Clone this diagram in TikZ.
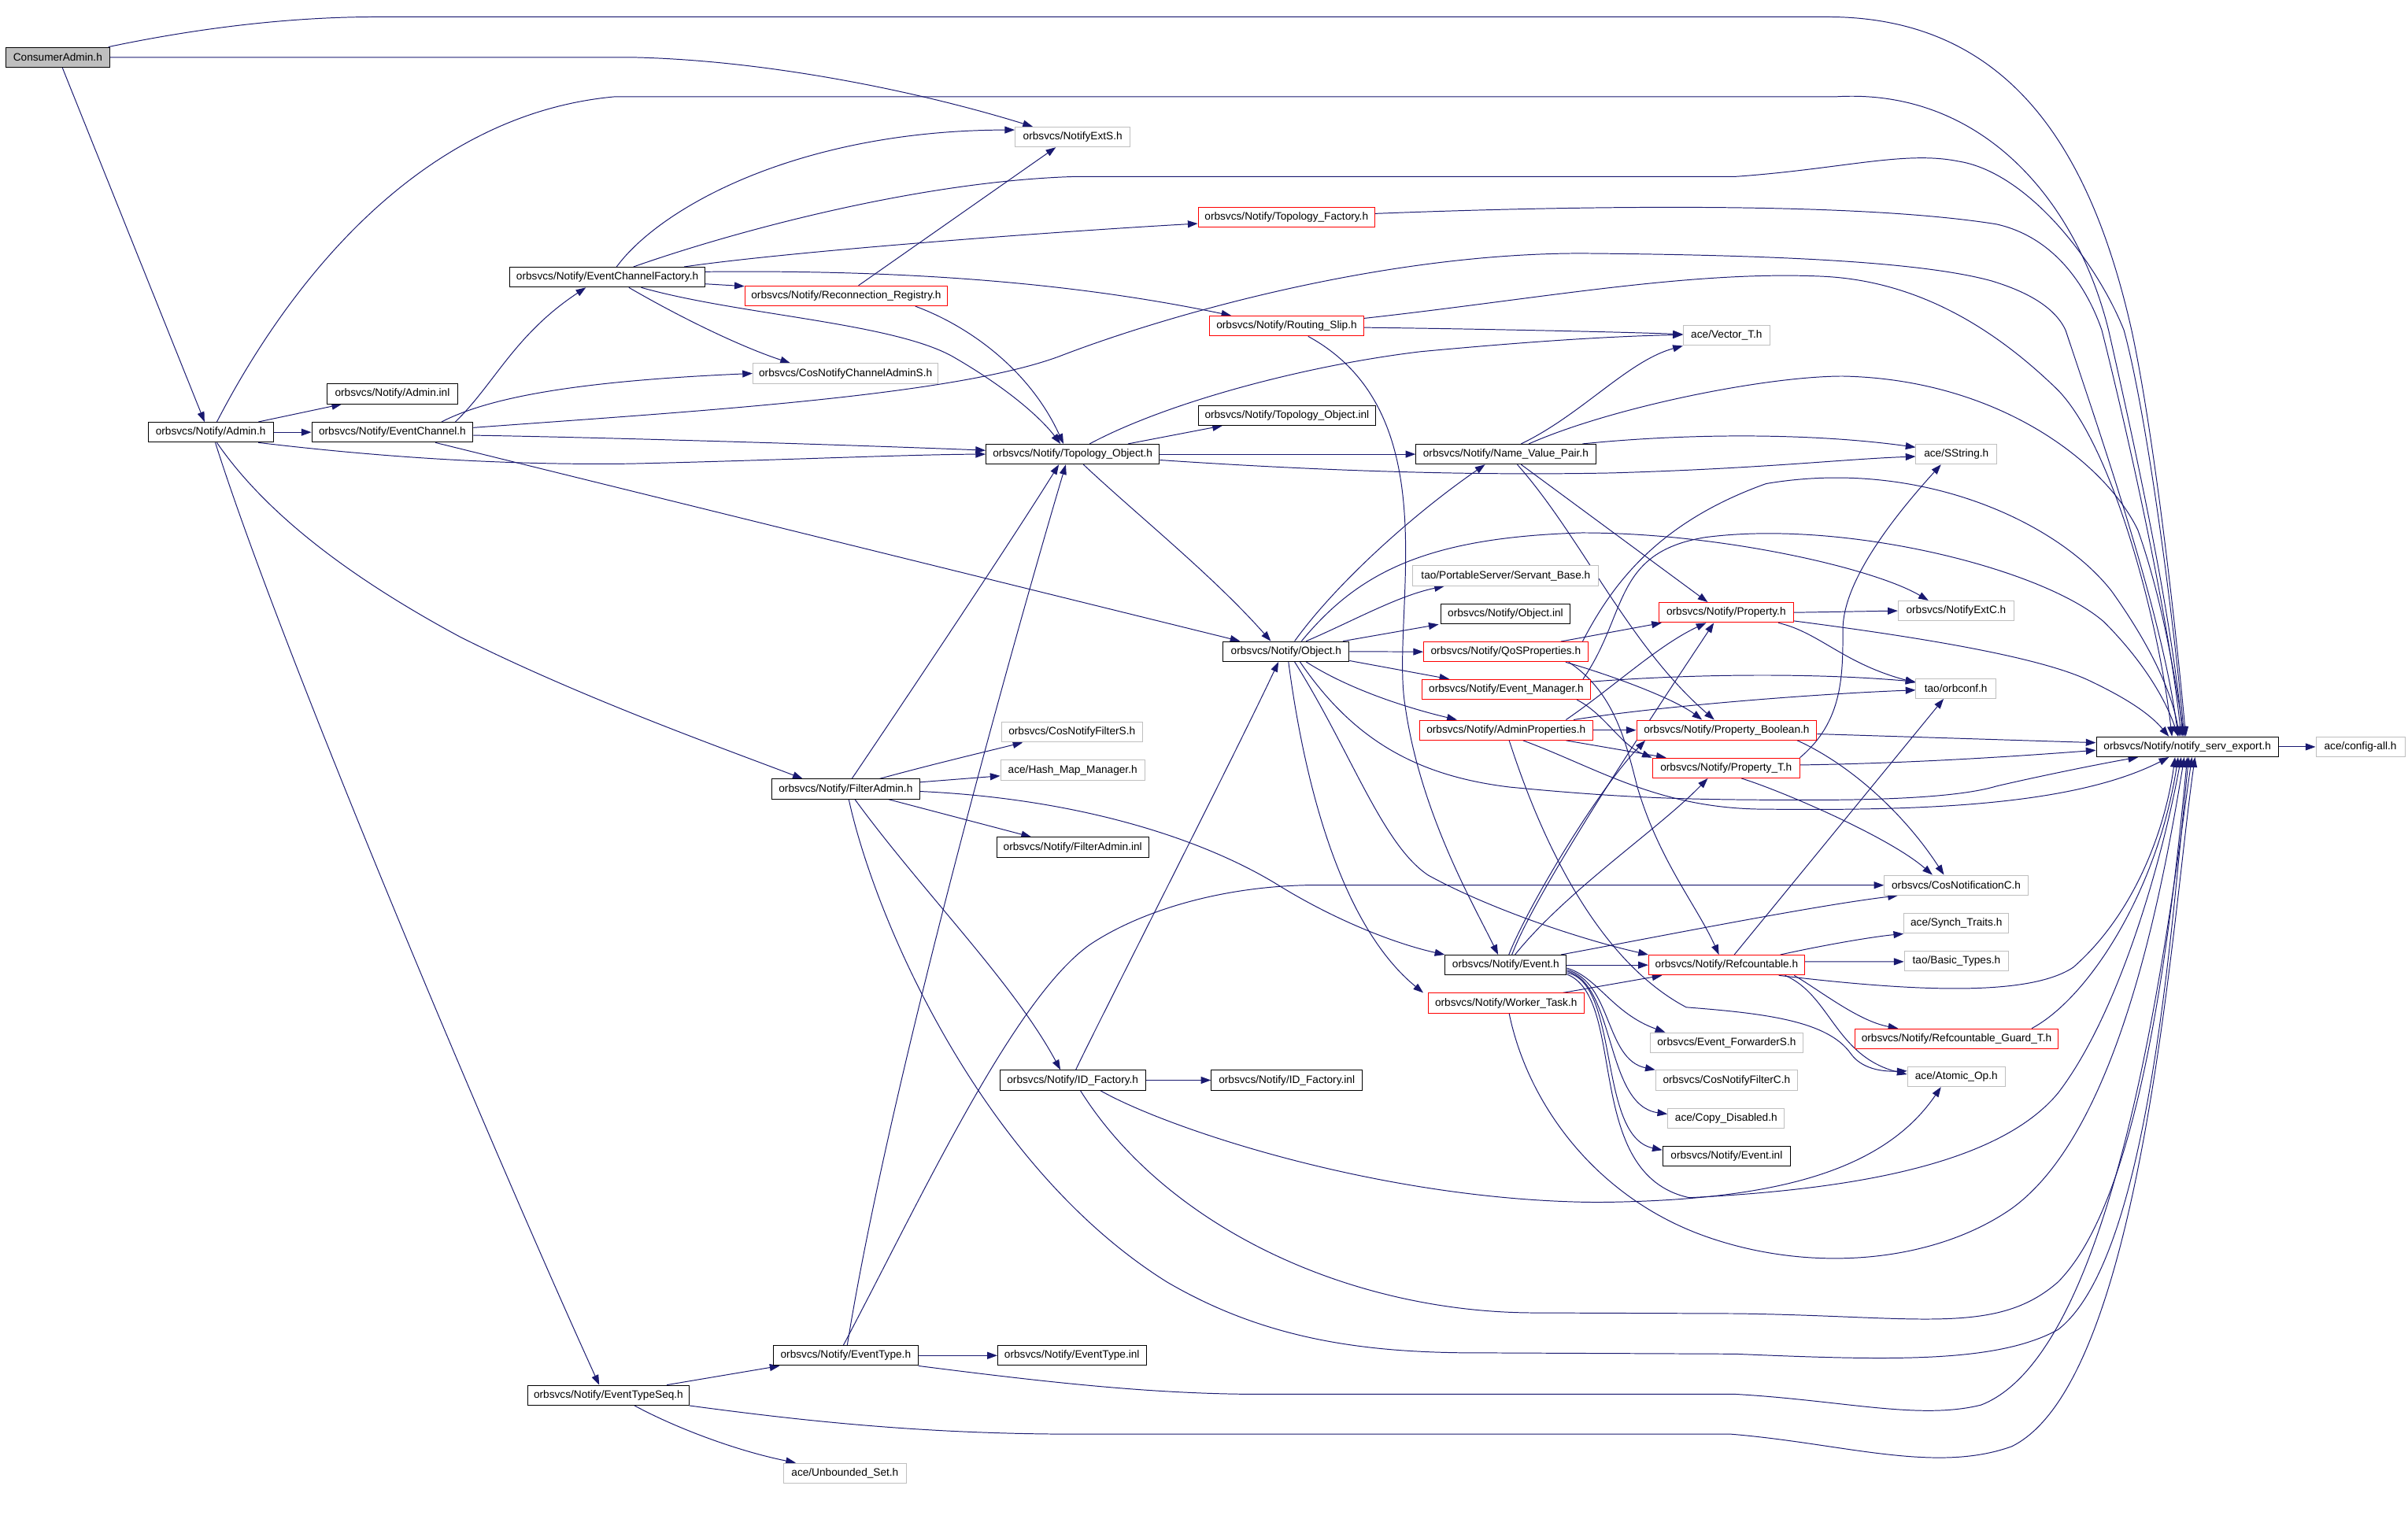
\documentclass[tikz,border=0pt]{standalone}
\usepackage{fontspec}
\setmainfont{Liberation Sans}
\usetikzlibrary{arrows.meta}
\definecolor{edgeblue}{RGB}{25,25,112}
\definecolor{boxgray}{RGB}{191,191,191}
\pgfdeclarelayer{bg}
\pgfsetlayers{bg,main}
\begin{document}
\begin{tikzpicture}[x=1pt,y=-1pt,
  nbox/.style={draw=black, fill=white, line width=0.5pt, minimum height=13pt, inner xsep=3pt, inner ysep=0pt, font=\fontsize{7pt}{8pt}\selectfont, text=black},
  rbox/.style={nbox, draw=red},
  gbox/.style={nbox, draw=boxgray},
  dep/.style={draw=edgeblue, line width=0.5pt, -{Triangle[length=6.5pt,width=4.6pt]}}]
\useasboundingbox (0,0) rectangle (1568,989);
% ---------------- nodes ----------------
\node[nbox, fill=boxgray, minimum width=67.5pt] (ca) at (37.6,37.3) {ConsumerAdmin.h};
\node[nbox, minimum width=81.5pt] (admin) at (137.2,281.5) {orbsvcs/Notify/Admin.h};
\node[nbox, minimum width=85pt] (admininl) at (255.5,256.5) {orbsvcs/Notify/Admin.inl};
\node[nbox, minimum width=105pt] (ec) at (255.5,281.5) {orbsvcs/Notify/EventChannel.h};
\node[nbox, minimum width=127pt] (ecf) at (395.5,180.5) {orbsvcs/Notify/EventChannelFactory.h};
\node[gbox, minimum width=75pt] (extS) at (698.5,89.2) {orbsvcs/NotifyExtS.h};
\node[rbox, minimum width=132pt] (recon) at (551,192.7) {orbsvcs/Notify/Reconnection\_Registry.h};
\node[gbox, minimum width=120.7pt] (chadmS) at (550.6,243.2) {orbsvcs/CosNotifyChannelAdminS.h};
\node[nbox, minimum width=113pt] (topo) at (698.5,295.8) {orbsvcs/Notify/Topology\_Object.h};
\node[rbox, minimum width=115pt] (topofact) at (837.7,141.4) {orbsvcs/Notify/Topology\_Factory.h};
\node[rbox, minimum width=100.4pt] (rslip) at (837.8,212.3) {orbsvcs/Notify/Routing\_Slip.h};
\node[nbox, minimum width=115.4pt] (topoinl) at (838,270.5) {orbsvcs/Notify/Topology\_Object.inl};
\node[nbox, minimum width=117pt] (nvp) at (980.5,295.8) {orbsvcs/Notify/Name\_Value\_Pair.h};
\node[gbox, minimum width=56.5pt] (vec) at (1124.3,218.5) {ace/Vector\_T.h};
\node[gbox, minimum width=52.6pt] (sstr) at (1273.9,295.8) {ace/SString.h};
\node[gbox, minimum width=121pt] (servant) at (980.5,375) {tao/PortableServer/Servant\_Base.h};
\node[nbox, minimum width=84.5pt] (objinl) at (980.3,399.9) {orbsvcs/Notify/Object.inl};
\node[rbox, minimum width=88pt] (prop) at (1124,398.9) {orbsvcs/Notify/Property.h};
\node[gbox, minimum width=75.4pt] (extC) at (1273.7,397.8) {orbsvcs/NotifyExtC.h};
\node[nbox, minimum width=82pt] (obj) at (837.5,424.3) {orbsvcs/Notify/Object.h};
\node[rbox, minimum width=107pt] (qos) at (980.5,424.5) {orbsvcs/Notify/QoSProperties.h};
\node[rbox, minimum width=109.6pt] (evmgr) at (980.8,449) {orbsvcs/Notify/Event\_Manager.h};
\node[gbox, minimum width=52pt] (orbconf) at (1273.6,448.4) {tao/orbconf.h};
\node[rbox, minimum width=112.5pt] (adminprops) at (980.7,475.5) {orbsvcs/Notify/AdminProperties.h};
\node[rbox, minimum width=117.3pt] (propbool) at (1124.3,475.5) {orbsvcs/Notify/Property\_Boolean.h};
\node[nbox, minimum width=118.6pt] (nse) at (1424.3,486.4) {orbsvcs/Notify/notify\_serv\_export.h};
\node[gbox, minimum width=58pt] (configall) at (1537,486.4) {ace/config-all.h};
\node[rbox, minimum width=96pt] (propT) at (1124,500.2) {orbsvcs/Notify/Property\_T.h};
\node[gbox, minimum width=92pt] (filterS) at (698,476.8) {orbsvcs/CosNotifyFilterS.h};
\node[gbox, minimum width=94pt] (hash) at (698.5,501.6) {ace/Hash\_Map\_Manager.h};
\node[nbox, minimum width=96.2pt] (filteradmin) at (550.7,513.9) {orbsvcs/Notify/FilterAdmin.h};
\node[nbox, minimum width=99pt] (filterinl) at (698.5,551.8) {orbsvcs/Notify/FilterAdmin.inl};
\node[gbox, minimum width=93.6pt] (cosnotC) at (1273.8,576.5) {orbsvcs/CosNotificationC.h};
\node[nbox, minimum width=79pt] (event) at (980.5,628.5) {orbsvcs/Notify/Event.h};
\node[rbox, minimum width=101.5pt] (refc) at (1124.3,628.5) {orbsvcs/Notify/Refcountable.h};
\node[gbox, minimum width=68.3pt] (synch) at (1273.9,601.4) {ace/Synch\_Traits.h};
\node[gbox, minimum width=68pt] (basic) at (1274,625.9) {tao/Basic\_Types.h};
\node[rbox, minimum width=101.4pt] (worker) at (980.7,653.3) {orbsvcs/Notify/Worker\_Task.h};
\node[rbox, minimum width=132pt] (guard) at (1274,676.5) {orbsvcs/Notify/Refcountable\_Guard\_T.h};
\node[gbox, minimum width=99.4pt] (fwdS) at (1124.3,679) {orbsvcs/Event\_ForwarderS.h};
\node[gbox, minimum width=63.7pt] (atomic) at (1273.9,701.2) {ace/Atomic\_Op.h};
\node[gbox, minimum width=92.5pt] (filterC) at (1124.3,703.5) {orbsvcs/CosNotifyFilterC.h};
\node[gbox, minimum width=76pt] (copyd) at (1124,728.5) {ace/Copy\_Disabled.h};
\node[nbox, minimum width=83.3pt] (eventinl) at (1124.3,753) {orbsvcs/Notify/Event.inl};
\node[nbox, minimum width=95pt] (idf) at (698.5,703.5) {orbsvcs/Notify/ID\_Factory.h};
\node[nbox, minimum width=98.3pt] (idfinl) at (837.9,703.5) {orbsvcs/Notify/ID\_Factory.inl};
\node[nbox, minimum width=105pt] (etseq) at (396.2,908.7) {orbsvcs/Notify/EventTypeSeq.h};
\node[nbox, minimum width=94.2pt] (et) at (550.7,882.8) {orbsvcs/Notify/EventType.h};
\node[nbox, minimum width=96.7pt] (etinl) at (698,882.8) {orbsvcs/Notify/EventType.inl};
\node[gbox, minimum width=79.6pt] (unb) at (550.2,959.4) {ace/Unbounded\_Set.h};
% ---------------- edges ----------------
\begin{pgfonlayer}{bg}
\fill[white] (0,0) rectangle (1568,989);
% ConsumerAdmin.h
\draw[dep] ([xshift=-1pt]ca.north east) .. controls (130,18) and (190,11) .. (245,11) -- (1190,11) .. controls (1310,11) and (1362,100) .. (1388,215) .. controls (1402,280) and (1416,400) .. ([xshift=-1pt]nse.north);
\draw[dep] (ca.east) -- (410,37.3) .. controls (500,39) and (600,60) .. ([xshift=-26pt]extS.north);
\draw[dep] ([xshift=3pt]ca.south) -- ([xshift=-4pt]admin.north);
% Admin.h
\draw[dep] ([xshift=4pt]admin.north) .. controls (185,190) and (270,75) .. (400,63) -- (1195,63) .. controls (1290,57) and (1352,130) .. (1373,215) .. controls (1390,290) and (1414,400) .. ([xshift=-3pt]nse.north);
\draw[dep] ([xshift=31pt]admin.north) -- ([xshift=-33pt]admininl.south);
\draw[dep] (admin.east) -- (ec.west);
\draw[dep] ([xshift=31pt]admin.south) .. controls (250,298) and (330,303) .. (410,302) .. controls (500,300) and (590,296) .. (topo.west);
\draw[dep] ([xshift=4pt]admin.south) .. controls (170,330) and (220,372) .. (300,415) .. controls (380,455) and (470,487) .. ([xshift=-28pt]filteradmin.north);
\draw[dep] ([xshift=3pt]admin.south) .. controls (185,430) and (330,770) .. ([xshift=-6pt]etseq.north);
% EventChannel.h
\draw[dep] ([xshift=41pt]ec.north) .. controls (322,250) and (335,218) .. ([xshift=-14pt]ecf.south);
\draw[dep] ([xshift=32pt]ec.north) .. controls (320,258) and (380,248) .. (chadmS.west);
\draw[dep] ([yshift=3pt]ec.east) .. controls (450,268) and (620,258) .. (690,232) .. controls (760,205) and (900,165) .. (1030,165) .. controls (1150,166) and (1250,170) .. (1297,183) .. controls (1320,190) and (1338,200) .. (1345,215) .. controls (1370,290) and (1408,400) .. ([xshift=-6pt]nse.north);
\draw[dep] ([yshift=-2pt]ec.east) .. controls (400,285) and (560,290) .. ([yshift=2.5pt]topo.west);
\draw[dep] ([xshift=28pt]ec.south) -- ([xshift=-30pt]obj.north);
% EventChannelFactory.h
\draw[dep] ([xshift=6pt]ecf.north) .. controls (430,135) and (520,85) .. ([yshift=4.6pt]extS.west);
\draw[dep] ([xshift=17pt]ecf.north) .. controls (480,150) and (600,118) .. (700,115) -- (1130,115) .. controls (1200,110) and (1240,98) .. (1275,105) .. controls (1320,112) and (1365,170) .. (1383,215) .. controls (1398,270) and (1415,400) .. ([xshift=-2pt]nse.north);
\draw[dep] ([xshift=50pt]ecf.north) .. controls (520,163) and (700,150) .. ([yshift=-4.2pt]topofact.west);
\draw[dep] ([yshift=-4.4pt]ecf.east) -- ([yshift=6.3pt]recon.west);
\draw[dep] ([yshift=3.5pt]ecf.east) .. controls (560,176) and (680,180) .. ([xshift=-36pt]rslip.north);
\draw[dep] ([xshift=14pt]ecf.south) .. controls (440,205) and (480,225) .. ([xshift=-36pt]chadmS.north);
\draw[dep] ([xshift=22pt]ecf.south) .. controls (480,205) and (580,210) .. (620,232) .. controls (660,255) and (680,275) .. ([xshift=-8pt]topo.north);
% Reconnection_Registry.h
\draw[dep] ([xshift=8pt]recon.north) -- ([xshift=-11pt]extS.south);
\draw[dep] ([xshift=45pt]recon.south) .. controls (630,212) and (670,240) .. ([xshift=-6pt]topo.north);
% Topology_Factory.h
\draw[dep] ([yshift=2.3pt]topofact.east) .. controls (1000,135) and (1200,130) .. (1300,146) .. controls (1340,155) and (1360,190) .. (1368.6,215) .. controls (1385,280) and (1412,400) .. ([xshift=-4pt]nse.north);
% Routing_Slip.h
\draw[dep] ([yshift=5pt]rslip.east) .. controls (1000,195) and (1100,176) .. (1187,180) .. controls (1250,183) and (1300,215) .. (1340,254) .. controls (1375,290) and (1405,400) .. ([xshift=-10pt]nse.north);
\draw[dep] ([yshift=-1pt]rslip.east) .. controls (950,214) and (1050,216) .. ([yshift=0.8pt]vec.west);
\draw[dep] ([xshift=14pt]rslip.south) .. controls (945,270) and (905,400) .. (915,460) .. controls (925,530) and (960,590) .. ([xshift=-5pt]event.north);
% Topology_Object.h
\draw[dep] ([xshift=36pt]topo.north) -- ([xshift=-42pt]topoinl.south);
\draw[dep] ([xshift=11pt]topo.north) .. controls (760,262) and (850,238) .. (925,229) .. controls (1000,222) and (1050,219) .. ([yshift=0.5pt]vec.west);
\draw[dep] (topo.east) -- (nvp.west);
\draw[dep] ([yshift=-3.8pt]topo.east) .. controls (850,306) and (950,310) .. (1050,308) .. controls (1150,305) and (1200,299) .. ([yshift=-1.5pt]sstr.west);
\draw[dep] ([xshift=7pt]topo.south) .. controls (740,335) and (790,375) .. ([xshift=-10pt]obj.north);
% Name_Value_Pair.h
\draw[dep] ([xshift=10pt]nvp.north) .. controls (1030,270) and (1060,235) .. (vec.south west);
\draw[dep] ([xshift=15pt]nvp.north) .. controls (1050,265) and (1150,245) .. (1200,245) .. controls (1300,247) and (1370,300) .. (1392,345) .. controls (1408,390) and (1416,440) .. ([xshift=-2pt]nse.north);
\draw[dep] ([xshift=50pt]nvp.north) .. controls (1100,282) and (1180,282) .. ([yshift=4.5pt]sstr.west);
\draw[dep] ([xshift=10pt]nvp.south) -- ([xshift=-12pt]prop.north);
\draw[dep] ([xshift=7.5pt]nvp.south) .. controls (1030,350) and (1060,420) .. ([xshift=-8pt]propbool.north);
% Object.h
\draw[dep] ([xshift=5.5pt]obj.north) .. controls (870,380) and (920,335) .. ([xshift=-13.5pt]nvp.south);
\draw[dep] ([xshift=13pt]obj.north) .. controls (880,405) and (910,388) .. ([xshift=-40pt]servant.south);
\draw[dep] ([xshift=10pt]obj.north) .. controls (885,372) and (930,350) .. (1030,347) .. controls (1120,347) and (1220,370) .. ([xshift=-18pt]extC.north);
\draw[dep] ([xshift=37pt]obj.north) -- ([xshift=-1pt]objinl.south west);
\draw[dep] (obj.east) -- (qos.west);
\draw[dep] ([yshift=-6pt]obj.east) -- ([xshift=-37pt]evmgr.north);
\draw[dep] ([xshift=13pt]obj.south) .. controls (880,450) and (920,462) .. ([xshift=-32pt]adminprops.north);
\draw[dep] ([xshift=9pt]obj.south) .. controls (880,480) and (920,505) .. (983,512.6) .. controls (1060,520) and (1100,521) .. (1180,521) .. controls (1240,521) and (1280,518) .. (1300,512) .. controls (1330,505) and (1370,497) .. ([xshift=-32pt]nse.south);
\draw[dep] ([xshift=1.5pt]obj.south) .. controls (848,500) and (870,600) .. ([xshift=-3pt]worker.north west);
\draw[dep] ([xshift=5.5pt]obj.south) .. controls (880,490) and (900,550) .. (930,570) .. controls (970,592) and (1030,612) .. (refc.north west);
% QoSProperties.h
\draw[dep] ([xshift=36pt]qos.north) -- ([xshift=-42pt]prop.south);
\draw[dep] ([xshift=50pt]qos.north) .. controls (1050,380) and (1080,340) .. (1150,315) .. controls (1250,298) and (1340,340) .. (1375,385) .. controls (1400,420) and (1414,450) .. ([xshift=-5pt]nse.north);
\draw[dep] ([xshift=39pt]qos.south) .. controls (1050,440) and (1090,455) .. ([xshift=-16pt]propbool.north);
\draw[dep] ([xshift=41pt]qos.south) .. controls (1050,450) and (1058,480) .. (1066,512) .. controls (1080,560) and (1105,590) .. ([xshift=-5pt]refc.north);
% Event_Manager.h
\draw[dep] ([xshift=50pt]evmgr.north) .. controls (1060,400) and (1050,360) .. (1110,350) .. controls (1200,338) and (1330,370) .. (1370,405) .. controls (1395,430) and (1410,455) .. ([xshift=-6pt]nse.north);
\draw[dep] ([yshift=5pt]evmgr.east) .. controls (1100,439) and (1180,438) .. ([yshift=4.4pt]orbconf.west);
\draw[dep] ([xshift=46pt]evmgr.south) .. controls (1045,465) and (1055,485) .. (propT.north west);
% AdminProperties.h
\draw[dep] (adminprops.east) -- (propbool.west);
\draw[dep] ([xshift=39pt]adminprops.north) .. controls (1050,448) and (1080,420) .. ([xshift=-13pt]prop.south);
\draw[dep] ([xshift=39pt]adminprops.south) -- ([xshift=-39pt]propT.north);
\draw[dep] ([xshift=44pt]adminprops.north) .. controls (1080,460) and (1180,452) .. ([yshift=-1pt]orbconf.west);
\draw[dep] ([xshift=11pt]adminprops.south) .. controls (1040,500) and (1080,527) .. (1150,527) .. controls (1250,528) and (1350,525) .. ([xshift=-12pt]nse.south);
\draw[dep] ([xshift=2pt]adminprops.south) .. controls (995,520) and (1030,620) .. (1098,656) .. controls (1150,660) and (1190,665) .. (1205,686) .. controls (1212,696) and (1225,698) .. ([yshift=3.7pt]atomic.west);
% Property.h
\draw[dep] (prop.east) -- (extC.west);
\draw[dep] ([yshift=-5.5pt]prop.east) .. controls (1250,415) and (1330,428) .. (1362,444) .. controls (1385,455) and (1400,465) .. ([xshift=-12pt]nse.north);
\draw[dep] ([xshift=34pt]prop.south) .. controls (1185,412) and (1200,432) .. ([yshift=3.8pt]orbconf.west);
% Property_Boolean.h
\draw[dep] ([yshift=-2.5pt]propbool.east) -- ([yshift=2.7pt]nse.west);
\draw[dep] ([xshift=46pt]propbool.south) .. controls (1205,498) and (1240,530) .. ([xshift=-8pt]cosnotC.north);
% Property_T.h
\draw[dep] ([xshift=48pt]propT.north) .. controls (1200,470) and (1200,440) .. (1200,410) .. controls (1200,380) and (1230,340) .. ([xshift=-10pt]sstr.south);
\draw[dep] ([yshift=2pt]propT.east) .. controls (1250,497) and (1320,492) .. ([yshift=-2.2pt]nse.west);
\draw[dep] ([xshift=10pt]propT.south) .. controls (1160,515) and (1230,545) .. ([xshift=-15.5pt]cosnotC.north);
% Event.h
\draw[dep] ([xshift=4pt]event.north) .. controls (1000,580) and (1080,460) .. ([xshift=-8pt]prop.south);
\draw[dep] ([xshift=2pt]event.north) .. controls (995,590) and (1040,515) .. ([xshift=-53pt]propbool.south);
\draw[dep] ([xshift=6pt]event.north) .. controls (1020,580) and (1080,540) .. ([xshift=-12pt]propT.south);
\draw[dep] ([xshift=36pt]event.north) .. controls (1080,610) and (1180,590) .. ([xshift=-38pt]cosnotC.south);
\draw[dep] (event.east) -- (refc.west);
\draw[dep] ([yshift=-2pt]event.east) .. controls (1040,636) and (1050,660) .. ([xshift=-40pt]fwdS.north);
\draw[dep] ([yshift=-3pt]event.east) .. controls (1050,640) and (1045,690) .. (filterC.north west);
\draw[dep] ([yshift=-4pt]event.east) .. controls (1052,640) and (1045,720) .. ([yshift=3pt]copyd.west);
\draw[dep] ([yshift=-5pt]event.east) .. controls (1055,640) and (1040,740) .. ([yshift=4pt]eventinl.west);
\draw[dep] ([yshift=-6pt]event.east) .. controls (1060,650) and (1030,765) .. (1100,780) .. controls (1200,775) and (1300,760) .. (1340,712) .. controls (1380,660) and (1408,560) .. ([xshift=-4pt]nse.south);
% Worker_Task.h
\draw[dep] ([xshift=37pt]worker.north) -- ([xshift=-42pt]refc.south);
\draw[dep] ([xshift=2pt]worker.south) .. controls (995,720) and (1040,780) .. (1110,805) .. controls (1180,830) and (1260,822) .. (1310,787) .. controls (1375,740) and (1405,600) .. ([xshift=-2pt]nse.south);
% Refcountable.h
\draw[dep] ([xshift=5pt]refc.north) -- ([xshift=-8pt]orbconf.south);
\draw[dep] ([xshift=35pt]refc.north) .. controls (1190,615) and (1220,610) .. (synch.south west);
\draw[dep] ([yshift=2.2pt]refc.east) -- ([yshift=-0.4pt]basic.west);
\draw[dep] ([xshift=44pt]refc.south) .. controls (1185,645) and (1210,665) .. ([xshift=-38pt]guard.north);
\draw[dep] ([xshift=38pt]refc.south) .. controls (1192,648) and (1195,688) .. ([yshift=1.5pt]atomic.west);
\draw[dep] ([xshift=34pt]refc.south) .. controls (1240,645) and (1320,650) .. (1350,630) .. controls (1390,595) and (1410,540) .. ([xshift=-8pt]nse.south);
% Refcountable_Guard_T.h
\draw[dep] ([xshift=49pt]guard.north) .. controls (1360,650) and (1405,580) .. ([xshift=-6pt]nse.south);
% FilterAdmin.h
\draw[dep] ([xshift=4pt]filteradmin.north) .. controls (600,440) and (660,350) .. ([xshift=-9pt]topo.south);
\draw[dep] ([xshift=22pt]filteradmin.north) .. controls (610,497) and (640,490) .. ([xshift=-32pt]filterS.south);
\draw[dep] ([yshift=4.5pt]filteradmin.east) -- ([yshift=-3.7pt]hash.west);
\draw[dep] ([xshift=28pt]filteradmin.south) -- ([xshift=-27pt]filterinl.north);
\draw[dep] ([yshift=-1.5pt]filteradmin.east) .. controls (700,520) and (780,545) .. (830,575) .. controls (870,600) and (910,615) .. (event.north west);
\draw[dep] ([xshift=6pt]filteradmin.south) .. controls (600,580) and (660,640) .. ([xshift=-8pt]idf.north);
\draw[dep] ([xshift=2pt]filteradmin.south) .. controls (570,600) and (640,760) .. (760,835) .. controls (820,870) and (880,880) .. (950,881) -- (1130,881.8) .. controls (1230,886) and (1300,888) .. (1340,866) .. controls (1400,820) and (1414,600) .. ([xshift=1pt]nse.south);
% ID_Factory.h
\draw[dep] (idf.east) -- (idfinl.west);
\draw[dep] ([xshift=2pt]idf.north) .. controls (712,672) and (800,500) .. ([xshift=-5pt]obj.south);
\draw[dep] ([xshift=18pt]idf.south) .. controls (760,735) and (900,782) .. (1040,783) .. controls (1150,782) and (1225,765) .. ([xshift=-10pt]atomic.south);
\draw[dep] ([xshift=5pt]idf.south) .. controls (760,800) and (880,855) .. (1000,855) -- (1130,855.5) .. controls (1250,857) and (1300,870) .. (1340,835) .. controls (1395,780) and (1414,600) .. (nse.south);
% EventType.h
\draw[dep] ([xshift=1pt]et.north) .. controls (580,700) and (665,400) .. ([xshift=-4.5pt]topo.south);
\draw[dep] (et.east) -- (etinl.west);
\draw[dep] ([xshift=-1.5pt]et.north) .. controls (600,780) and (660,650) .. (710,615) .. controls (740,595) and (790,578) .. (850,576.5) -- (cosnotC.west);
\draw[dep] (et.south east) .. controls (680,900) and (750,908) .. (820,908) -- (1130,908) .. controls (1200,912) and (1250,925) .. (1290,915) .. controls (1380,880) and (1412,600) .. ([xshift=3pt]nse.south);
% EventTypeSeq.h
\draw[dep] ([xshift=38pt]etseq.north) -- ([xshift=-43pt]et.south);
\draw[dep] ([xshift=17pt]etseq.south) .. controls (440,930) and (480,945) .. ([xshift=-32pt]unb.north);
\draw[dep] (etseq.south east) .. controls (520,925) and (600,934) .. (700,934) -- (1127,934) .. controls (1200,940) and (1260,960) .. (1310,942) .. controls (1395,900) and (1414,600) .. ([xshift=5pt]nse.south);
% notify_serv_export.h
\draw[dep] (nse.east) -- (configall.west);
\end{pgfonlayer}
\end{tikzpicture}
\end{document}
